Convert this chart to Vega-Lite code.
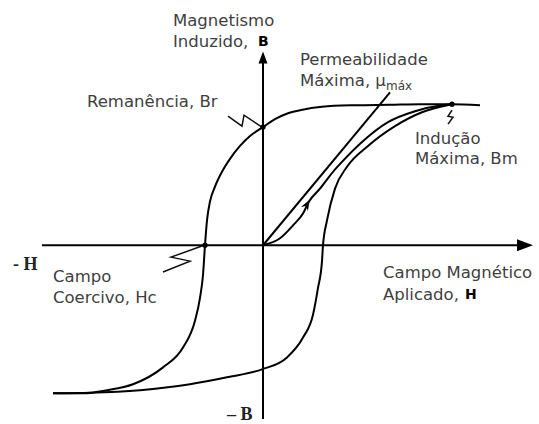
{
  "$schema": "https://vega.github.io/schema/vega-lite/v6.json",
  "width": 539,
  "height": 424,
  "padding": 0,
  "autosize": {"type": "fit", "contains": "padding"},
  "background": "white",
  "config": {"view": {"stroke": null}},
  "datasets": {
    "lines": [
      {"curve": "axisH", "kind": "main", "i": 0, "H": -221, "B": 0},
      {"curve": "axisH", "kind": "main", "i": 1, "H": 258, "B": 0},
      {"curve": "axisV", "kind": "main", "i": 0, "H": 0, "B": -175},
      {"curve": "axisV", "kind": "main", "i": 1, "H": 0, "B": 185},
      {"curve": "tangent", "kind": "main", "i": 0, "H": 0, "B": 0},
      {"curve": "tangent", "kind": "main", "i": 1, "H": 127, "B": 154},
      {"curve": "desc", "kind": "main", "i": 0, "H": 217, "B": 141},
      {"curve": "desc", "kind": "main", "i": 1, "H": 189, "B": 142},
      {"curve": "desc", "kind": "main", "i": 2, "H": 157, "B": 142},
      {"curve": "desc", "kind": "main", "i": 3, "H": 127, "B": 141.5},
      {"curve": "desc", "kind": "main", "i": 4, "H": 92, "B": 141},
      {"curve": "desc", "kind": "main", "i": 5, "H": 59, "B": 139.5},
      {"curve": "desc", "kind": "main", "i": 6, "H": 37, "B": 136},
      {"curve": "desc", "kind": "main", "i": 7, "H": 25, "B": 133},
      {"curve": "desc", "kind": "main", "i": 8, "H": 12, "B": 127},
      {"curve": "desc", "kind": "main", "i": 9, "H": 0, "B": 119},
      {"curve": "desc", "kind": "main", "i": 10, "H": -13, "B": 110},
      {"curve": "desc", "kind": "main", "i": 11, "H": -23, "B": 100},
      {"curve": "desc", "kind": "main", "i": 12, "H": -33, "B": 87},
      {"curve": "desc", "kind": "main", "i": 13, "H": -41, "B": 74},
      {"curve": "desc", "kind": "main", "i": 14, "H": -48, "B": 59},
      {"curve": "desc", "kind": "main", "i": 15, "H": -53, "B": 44},
      {"curve": "desc", "kind": "main", "i": 16, "H": -56, "B": 25},
      {"curve": "desc", "kind": "main", "i": 17, "H": -58, "B": 0},
      {"curve": "desc", "kind": "main", "i": 18, "H": -60, "B": -30},
      {"curve": "desc", "kind": "main", "i": 19, "H": -63, "B": -53},
      {"curve": "desc", "kind": "main", "i": 20, "H": -68, "B": -76},
      {"curve": "desc", "kind": "main", "i": 21, "H": -80, "B": -103},
      {"curve": "desc", "kind": "main", "i": 22, "H": -100, "B": -123},
      {"curve": "desc", "kind": "main", "i": 23, "H": -130, "B": -140},
      {"curve": "desc", "kind": "main", "i": 24, "H": -156, "B": -146},
      {"curve": "desc", "kind": "main", "i": 25, "H": -180, "B": -149},
      {"curve": "desc", "kind": "main", "i": 26, "H": -210, "B": -149},
      {"curve": "asc", "kind": "main", "i": 0, "H": -210, "B": -149},
      {"curve": "asc", "kind": "main", "i": 1, "H": -173, "B": -148.5},
      {"curve": "asc", "kind": "main", "i": 2, "H": -123, "B": -146},
      {"curve": "asc", "kind": "main", "i": 3, "H": -73, "B": -140},
      {"curve": "asc", "kind": "main", "i": 4, "H": -36, "B": -133},
      {"curve": "asc", "kind": "main", "i": 5, "H": -1, "B": -125},
      {"curve": "asc", "kind": "main", "i": 6, "H": 24, "B": -113},
      {"curve": "asc", "kind": "main", "i": 7, "H": 40, "B": -93},
      {"curve": "asc", "kind": "main", "i": 8, "H": 50, "B": -70},
      {"curve": "asc", "kind": "main", "i": 9, "H": 55, "B": -43},
      {"curve": "asc", "kind": "main", "i": 10, "H": 59, "B": -16},
      {"curve": "asc", "kind": "main", "i": 11, "H": 60, "B": 0},
      {"curve": "asc", "kind": "main", "i": 12, "H": 64, "B": 25},
      {"curve": "asc", "kind": "main", "i": 13, "H": 72, "B": 57},
      {"curve": "asc", "kind": "main", "i": 14, "H": 84, "B": 79},
      {"curve": "asc", "kind": "main", "i": 15, "H": 105, "B": 100},
      {"curve": "asc", "kind": "main", "i": 16, "H": 132, "B": 120},
      {"curve": "asc", "kind": "main", "i": 17, "H": 159, "B": 134},
      {"curve": "asc", "kind": "main", "i": 18, "H": 189, "B": 142},
      {"curve": "init", "kind": "main", "i": 0, "H": 0, "B": 0},
      {"curve": "init", "kind": "main", "i": 1, "H": 17, "B": 7},
      {"curve": "init", "kind": "main", "i": 2, "H": 30, "B": 20},
      {"curve": "init", "kind": "main", "i": 3, "H": 40, "B": 32},
      {"curve": "init", "kind": "main", "i": 4, "H": 46, "B": 44},
      {"curve": "init", "kind": "main", "i": 5, "H": 57, "B": 57},
      {"curve": "init", "kind": "main", "i": 6, "H": 70, "B": 74},
      {"curve": "init", "kind": "main", "i": 7, "H": 79, "B": 84},
      {"curve": "init", "kind": "main", "i": 8, "H": 99, "B": 104},
      {"curve": "init", "kind": "main", "i": 9, "H": 125, "B": 124},
      {"curve": "init", "kind": "main", "i": 10, "H": 152, "B": 135},
      {"curve": "init", "kind": "main", "i": 11, "H": 179, "B": 141},
      {"curve": "init", "kind": "main", "i": 12, "H": 189, "B": 142},
      {"curve": "zbr", "kind": "leader", "i": 0, "H": -35, "B": 130},
      {"curve": "zbr", "kind": "leader", "i": 1, "H": -21, "B": 120},
      {"curve": "zbr", "kind": "leader", "i": 2, "H": -19, "B": 131},
      {"curve": "zbr", "kind": "leader", "i": 3, "H": -1, "B": 119},
      {"curve": "zhc", "kind": "leader", "i": 0, "H": -100, "B": -27},
      {"curve": "zhc", "kind": "leader", "i": 1, "H": -73, "B": -16},
      {"curve": "zhc", "kind": "leader", "i": 2, "H": -92, "B": -12},
      {"curve": "zhc", "kind": "leader", "i": 3, "H": -59, "B": 0},
      {"curve": "zbm", "kind": "leader", "i": 0, "H": 189, "B": 136},
      {"curve": "zbm", "kind": "leader", "i": 1, "H": 185, "B": 130},
      {"curve": "zbm", "kind": "leader", "i": 2, "H": 190, "B": 129},
      {"curve": "zbm", "kind": "leader", "i": 3, "H": 185, "B": 122}
    ],
    "arrows": [
      {"name": "Haxis", "H": 262, "B": 0, "dir": "right", "angle": 0},
      {"name": "Baxis", "H": 0, "B": 189, "dir": "up", "angle": 0},
      {"name": "init", "H": 44, "B": 41, "dir": "small", "angle": 30}
    ],
    "dots": [
      {"name": "Br", "H": 0, "B": 119},
      {"name": "Hc", "H": -58, "B": 0},
      {"name": "Bm", "H": 189, "B": 142}
    ],
    "labels": [
      {"text": "Magnetismo", "H": -90, "B": 226, "role": "note"},
      {"text": "Induzido,", "H": -90, "B": 205, "role": "note"},
      {"text": "B", "H": -5, "B": 205, "role": "bold"},
      {"text": "Permeabilidade", "H": 37, "B": 187, "role": "note"},
      {"text": "Máxima, μ", "H": 37, "B": 165, "role": "note"},
      {"text": "máx", "H": 123, "B": 160, "role": "sub"},
      {"text": "Remanência, Br", "H": -176, "B": 144, "role": "note"},
      {"text": "Indução", "H": 152, "B": 107, "role": "note"},
      {"text": "Máxima, Bm", "H": 152, "B": 87, "role": "note"},
      {"text": "Campo", "H": -210, "B": -32, "role": "note"},
      {"text": "Coercivo, Hc", "H": -210, "B": -53, "role": "note"},
      {"text": "Campo Magnético", "H": 120, "B": -28, "role": "note"},
      {"text": "Aplicado,", "H": 120, "B": -50, "role": "note"},
      {"text": "H", "H": 202, "B": -50, "role": "bold"},
      {"text": "- H", "H": -250, "B": -20, "role": "serif"},
      {"text": "– B", "H": -36, "B": -171, "role": "serif"}
    ]
  },
  "encoding": {
    "x": {"field": "H", "type": "quantitative", "scale": {"domain": [-263, 276], "nice": false, "zero": false}, "axis": null},
    "y": {"field": "B", "type": "quantitative", "scale": {"domain": [-177, 247], "nice": false, "zero": false}, "axis": null}
  },
  "layer": [
    {
      "data": {"name": "lines"},
      "transform": [{"filter": "datum.kind === 'main'"}],
      "mark": {"type": "line", "color": "black", "strokeWidth": 2, "interpolate": "monotone"},
      "encoding": {"detail": {"field": "curve"}, "order": {"field": "i", "type": "quantitative"}}
    },
    {
      "data": {"name": "lines"},
      "transform": [{"filter": "datum.kind === 'leader'"}],
      "mark": {"type": "line", "color": "#111", "strokeWidth": 1.5},
      "encoding": {"detail": {"field": "curve"}, "order": {"field": "i", "type": "quantitative"}}
    },
    {
      "data": {"name": "arrows"},
      "transform": [{"filter": "datum.dir === 'right'"}],
      "mark": {"type": "point", "shape": "M1,0L-1,-0.75L-1,0.75Z", "filled": true, "color": "black", "size": 256, "opacity": 1}
    },
    {
      "data": {"name": "arrows"},
      "transform": [{"filter": "datum.dir === 'up'"}],
      "mark": {"type": "point", "shape": "M0,-1L0.75,1L-0.75,1Z", "filled": true, "color": "black", "size": 144, "opacity": 1}
    },
    {
      "data": {"name": "arrows"},
      "transform": [{"filter": "datum.dir === 'small'"}],
      "mark": {"type": "point", "shape": "M0,-1L0.7,0.9L0,0.3L-0.7,0.9Z", "filled": true, "color": "black", "size": 130, "opacity": 1},
      "encoding": {"angle": {"field": "angle", "type": "quantitative", "scale": null}}
    },
    {
      "data": {"name": "dots"},
      "mark": {"type": "point", "shape": "circle", "filled": true, "color": "black", "size": 28, "opacity": 1}
    },
    {
      "data": {"name": "labels"},
      "transform": [{"filter": "datum.role === 'note'"}],
      "mark": {"type": "text", "align": "left", "baseline": "middle", "font": "DejaVu Sans", "fontSize": 16.5, "color": "#404040"},
      "encoding": {"text": {"field": "text"}}
    },
    {
      "data": {"name": "labels"},
      "transform": [{"filter": "datum.role === 'sub'"}],
      "mark": {"type": "text", "align": "left", "baseline": "middle", "font": "DejaVu Sans", "fontSize": 12, "color": "#404040"},
      "encoding": {"text": {"field": "text"}}
    },
    {
      "data": {"name": "labels"},
      "transform": [{"filter": "datum.role === 'bold'"}],
      "mark": {"type": "text", "align": "left", "baseline": "middle", "font": "DejaVu Sans", "fontSize": 14, "fontWeight": "bold", "color": "black"},
      "encoding": {"text": {"field": "text"}}
    },
    {
      "data": {"name": "labels"},
      "transform": [{"filter": "datum.role === 'serif'"}],
      "mark": {"type": "text", "align": "left", "baseline": "middle", "font": "Liberation Serif", "fontSize": 18, "fontWeight": "bold", "color": "#222"},
      "encoding": {"text": {"field": "text"}}
    }
  ]
}
